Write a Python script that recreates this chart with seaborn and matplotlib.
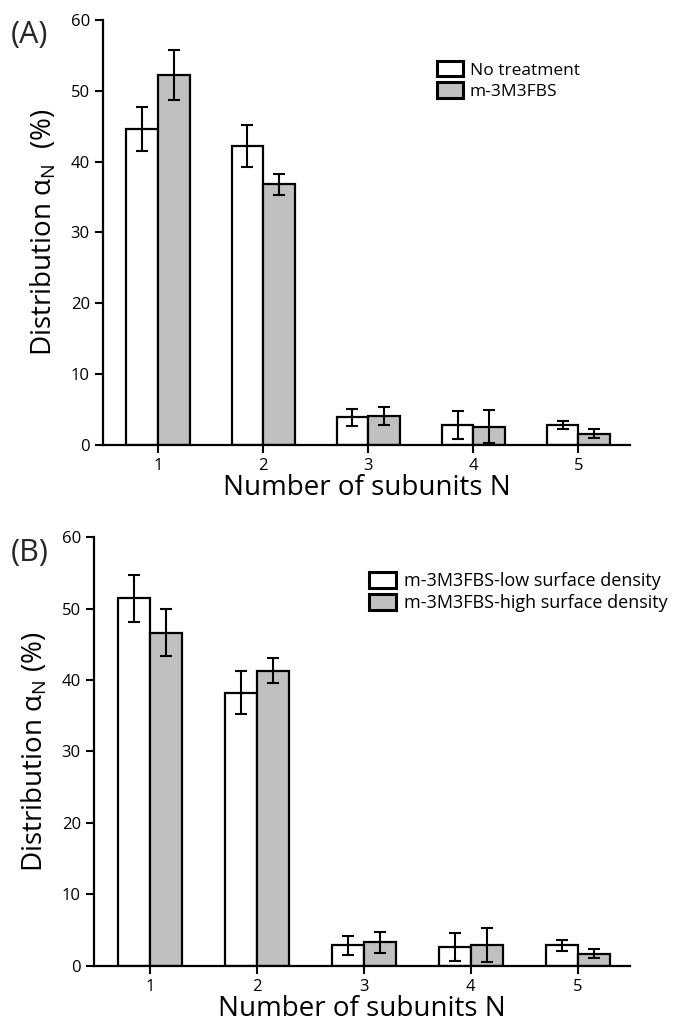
import matplotlib
matplotlib.use("Agg")
import matplotlib.pyplot as plt
import seaborn as sns
import pandas as pd
import numpy as np

sns.set_style("ticks")
plt.rcParams['font.family'] = ['Open Sans', 'DejaVu Sans']
plt.rcParams['mathtext.fontset'] = 'custom'
plt.rcParams['mathtext.rm'] = 'Open Sans'

subunits = ["1", "2", "3", "4", "5"]

# Panel A
a_labels = ["No treatment", "m-3M3FBS"]
a_no_treat = [44.6, 42.2, 3.9, 2.8, 2.8]
a_no_treat_err = [3.1, 3.0, 1.2, 2.0, 0.6]
a_m3m = [52.2, 36.8, 4.1, 2.6, 1.6]
a_m3m_err = [3.5, 1.5, 1.3, 2.3, 0.65]

# Panel B
b_labels = ["m-3M3FBS-low surface density", "m-3M3FBS-high surface density"]
b_low = [51.4, 38.2, 2.9, 2.6, 2.9]
b_low_err = [3.3, 3.0, 1.35, 1.95, 0.75]
b_high = [46.6, 41.3, 3.3, 2.9, 1.7]
b_high_err = [3.3, 1.75, 1.45, 2.4, 0.65]

colors = ["white", "#c0c0c0"]

fig = plt.figure(figsize=(6.79, 10.26), dpi=100)
axA = fig.add_axes([0.1517, 0.5663, 0.776, 0.4142])
axB = fig.add_axes([0.1384, 0.0585, 0.7894, 0.4181])


def panel(ax, s1, e1, s2, e2, labels, ylab, legend_anchor, legsize):
    df = pd.DataFrame({
        "N": subunits * 2,
        "value": list(s1) + list(s2),
        "group": [labels[0]] * len(subunits) + [labels[1]] * len(subunits),
    })
    sns.barplot(data=df, x="N", y="value", hue="group", order=subunits,
                hue_order=labels, palette=colors, edgecolor="black",
                linewidth=1.6, width=0.6, errorbar=None, ax=ax, saturation=1)
    errs = [e1, e2]
    vals = [s1, s2]
    for cont, v, e in zip(ax.containers, vals, errs):
        xs = [p.get_x() + p.get_width() / 2 for p in cont.patches]
        ax.errorbar(xs, v, yerr=e, fmt="none", ecolor="black", elinewidth=1.5,
                    capsize=4, capthick=1.5, zorder=5)
    ax.set_xlim(-0.523, 4.49)
    ax.set_ylim(0, 60)
    ax.set_yticks([0, 10, 20, 30, 40, 50, 60])
    sns.despine(ax=ax)
    for sp in ["left", "bottom"]:
        ax.spines[sp].set_linewidth(1.6)
        ax.spines[sp].set_color("black")
    ax.tick_params(axis="both", direction="out", length=6, width=1.5,
                   colors="black", labelsize=12)
    ax.set_xlabel("Number of subunits N", fontsize=20, labelpad=0,
                  color="black")
    ax.set_ylabel(ylab, fontsize=20, labelpad=9, color="black")
    leg = ax.legend(loc="upper left", bbox_to_anchor=legend_anchor,
                    frameon=False, fontsize=legsize, handlelength=1.5,
                    handleheight=1.0, handletextpad=0.4, labelspacing=0.2,
                    borderaxespad=0)
    for t in leg.get_texts():
        t.set_color("black")
    for h in leg.legend_handles:
        h.set_linewidth(2.2)
        h.set_edgecolor("black")


panel(axA, a_no_treat, a_no_treat_err, a_m3m, a_m3m_err, a_labels,
      r"Distribution α$_\mathrm{N}$  (%)", (0.62, 0.92), 12.5)
panel(axB, b_low, b_low_err, b_high, b_high_err, b_labels,
      r"Distribution α$_\mathrm{N}$ (%)", (0.50, 0.935), 13)

fig.text(0.016, 1 - 35 / 1026, "(A)", fontsize=22, ha="left", va="center")
fig.text(0.016, 1 - 553 / 1026, "(B)", fontsize=22, ha="left", va="center")

fig.savefig("out.png", dpi=100)
